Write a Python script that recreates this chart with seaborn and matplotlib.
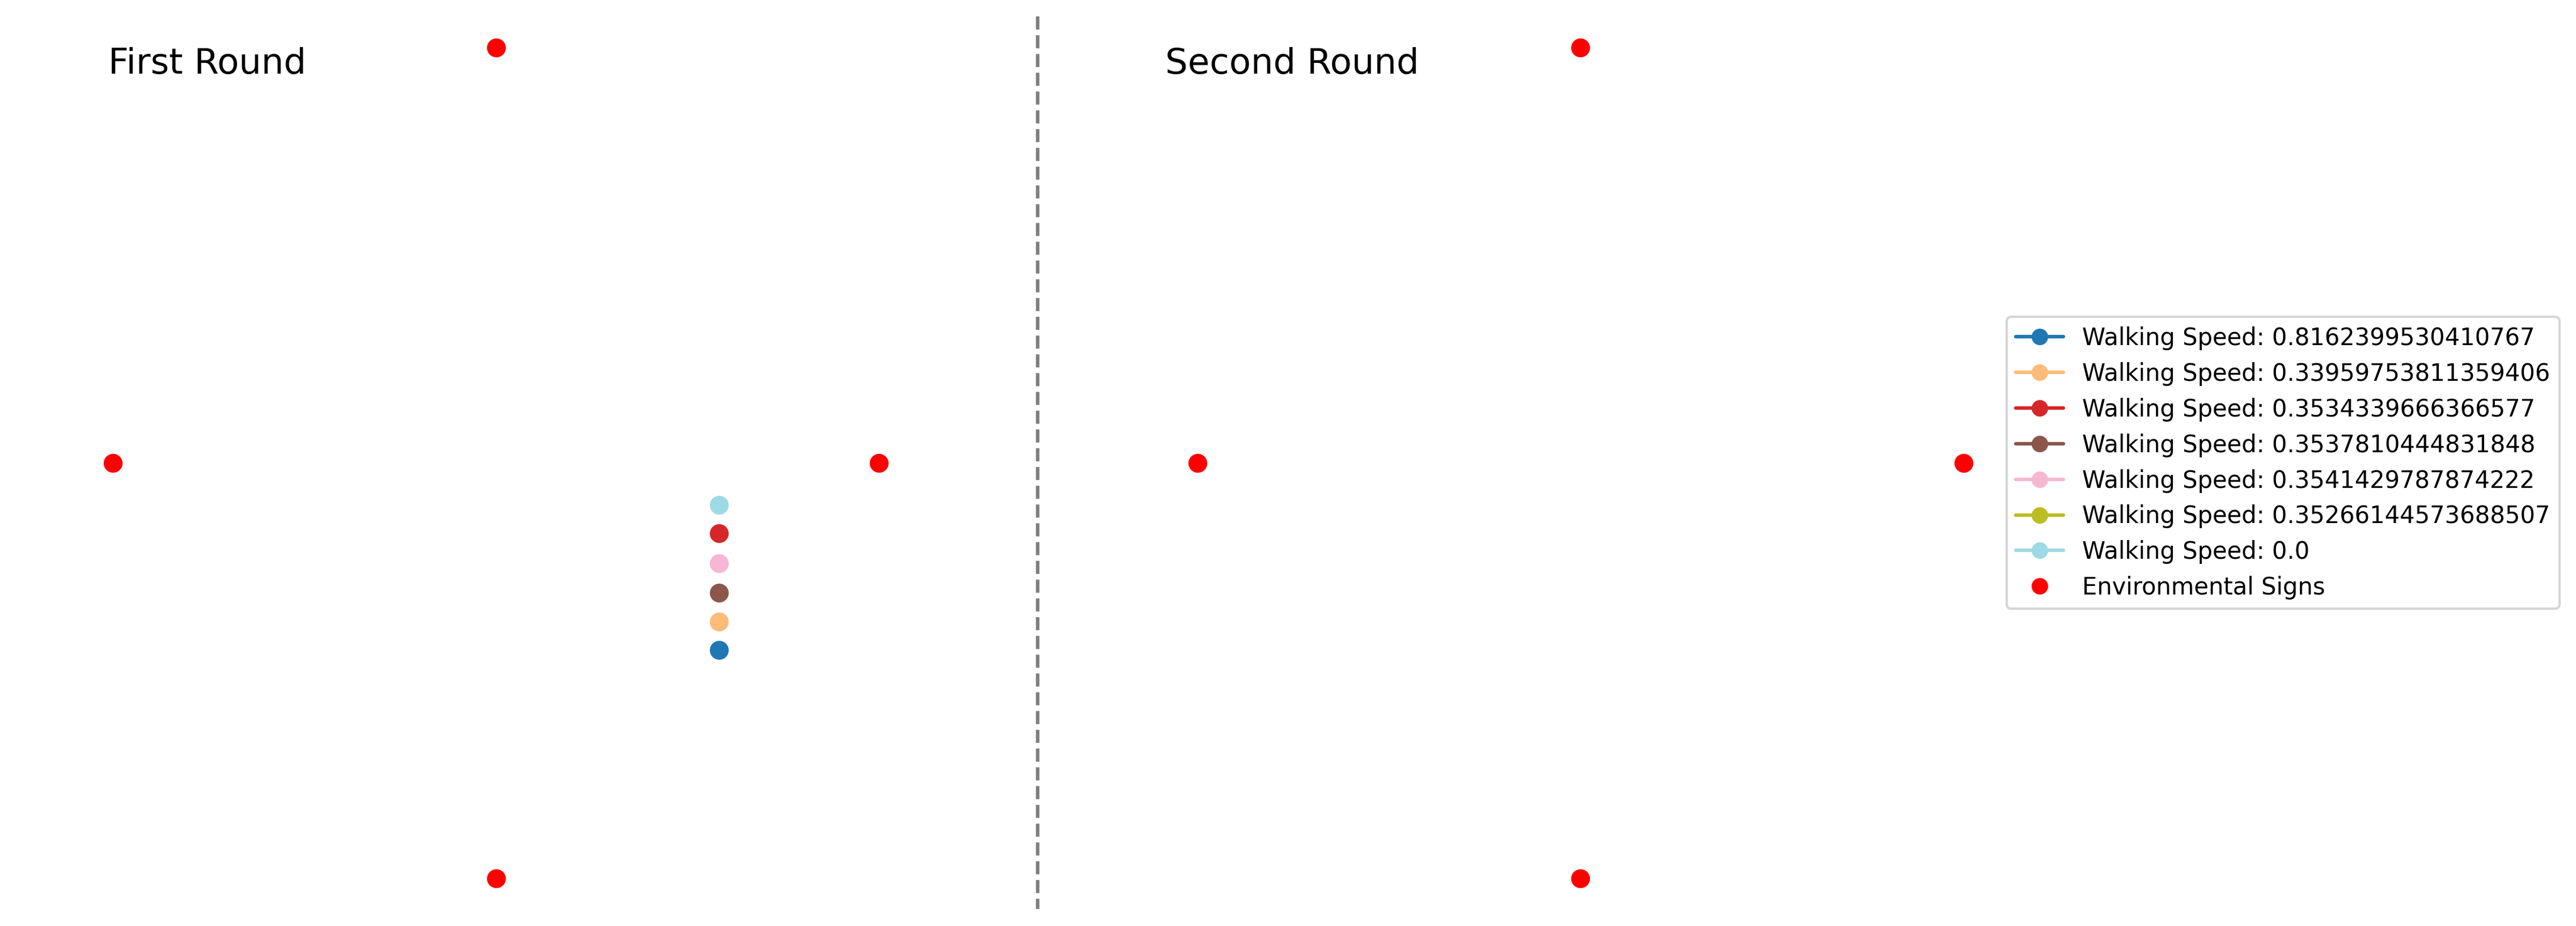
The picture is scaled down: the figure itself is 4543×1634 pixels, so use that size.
import numpy as np
import pandas as pd
import matplotlib
matplotlib.use("Agg")
import matplotlib.pyplot as plt
import seaborn as sns
from matplotlib.lines import Line2D

# walker speeds (legend order) and their first-round positions
walking_speeds = [0.8162399530410767, 0.33959753811359406, 0.3534339666366577,
                  0.3537810444831848, 0.3541429787874222, 0.35266144573688507, 0.0]
first_round_x = [2.91, 2.91, 2.91, 2.91, 2.91, np.nan, 2.91]
first_round_y = [-2.25, -1.91, -0.85, -1.56, -1.21, np.nan, -0.505]

# environmental signs, same in both rounds
sign_x = [0, -5, 5, 0]
sign_y = [5, 0, 0, -5]

round_titles = ["First Round", "Second Round"]

sns.set_style("white")
plt.rcParams["text.color"] = "black"
colors = plt.cm.tab20(np.linspace(0, 1, len(walking_speeds)))

W, H = 4543, 1634
fig = plt.figure(figsize=((W + 0.3) / 300, (H + 0.3) / 300), dpi=300)
ax_w = 1486.1 / W
ax_b = (H - 1623.3) / H
ax_h = 1612.6 / H
ax1 = fig.add_axes([131.8 / W, ax_b, ax_w, ax_h])
ax2 = fig.add_axes([2044.0 / W, ax_b, ax_w, ax_h])

walkers = pd.DataFrame({"x": first_round_x, "y": first_round_y,
                        "walker": range(len(walking_speeds))}).dropna()
for _, row in walkers.iterrows():
    i = int(row["walker"])
    sns.scatterplot(x=[row["x"]], y=[row["y"]], color=colors[i], s=64,
                    linewidth=0, ax=ax1, legend=False)

signs = pd.DataFrame({"x": sign_x, "y": sign_y})
for ax in (ax1, ax2):
    sns.scatterplot(data=signs, x="x", y="y", color="red", s=64,
                    linewidth=0, ax=ax, legend=False)
    ax.axis("off")

fig.text(191 / W, (H - 130) / H, round_titles[0], fontsize=15, va="baseline", color="black")
fig.text(2055 / W, (H - 130) / H, round_titles[1], fontsize=15, va="baseline", color="black")

# separator between the two rounds
fig.add_artist(Line2D([1830 / W, 1830 / W], [(H - 29) / H, (H - 1604) / H],
                      transform=fig.transFigure, color="gray",
                      linestyle="--", linewidth=1.5))

handles = [Line2D([0], [0], color=colors[i], marker="o")
           for i in range(len(walking_speeds))]
labels = [f"Walking Speed: {s}" for s in walking_speeds]
handles.append(Line2D([0], [0], color="red", marker="o", linestyle="none"))
labels.append("Environmental Signs")
leg = ax2.legend(handles, labels, loc="center left", bbox_to_anchor=(1.0, 0.5),
                 borderaxespad=0.2, fontsize=10)
for t in leg.get_texts():
    t.set_color("black")

fig.savefig("out.png", dpi=300)
